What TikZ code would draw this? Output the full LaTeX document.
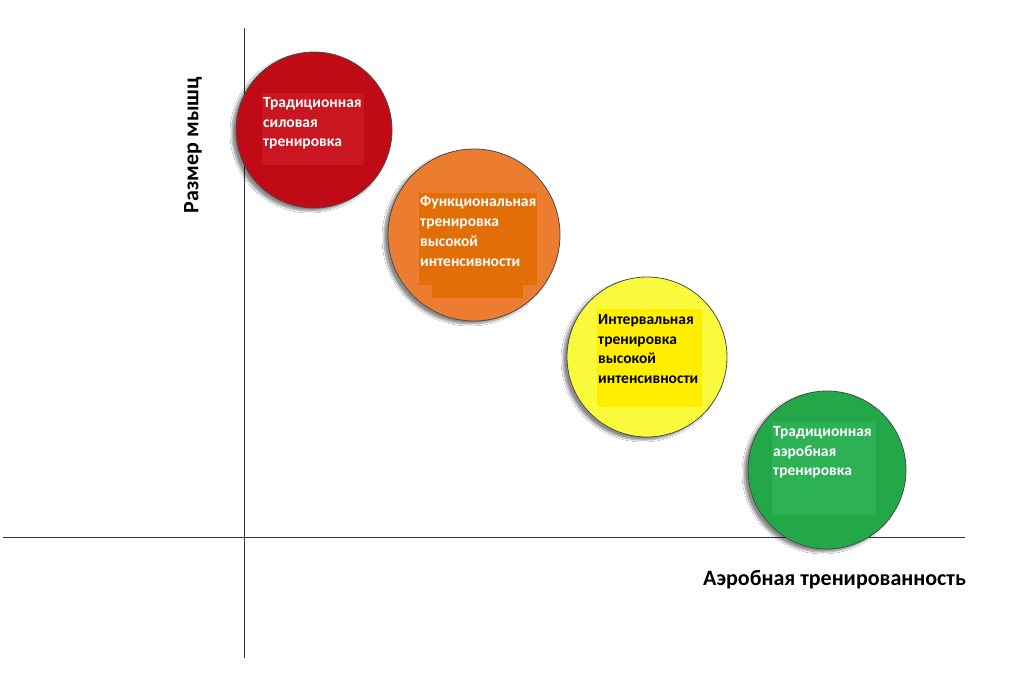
\documentclass[tikz,border=0pt]{standalone}
\usepackage{fontspec}
\setmainfont{Carlito}
\usetikzlibrary{shadows.blur}
\definecolor{redO}{RGB}{192,10,22}
\definecolor{redI}{RGB}{202,22,32}
\definecolor{orO}{RGB}{236,125,48}
\definecolor{orI}{RGB}{226,110,8}
\definecolor{yeO}{RGB}{250,250,60}
\definecolor{yeI}{RGB}{255,238,0}
\definecolor{grO}{RGB}{34,168,72}
\definecolor{grI}{RGB}{44,178,84}
\tikzset{
  ball/.style={circle, draw=gray!60!black, line width=0.8pt, inner sep=0pt,
    blur shadow={shadow xshift=-4pt, shadow yshift=-3pt, shadow blur steps=8, shadow opacity=45}},
  label/.style={anchor=north west, inner sep=0pt, align=left, font=\bfseries\fontsize{15.5}{19.8}\selectfont},
  axis/.style={line width=0.8pt, draw=black!80},
  axlabel/.style={font=\bfseries\fontsize{22}{26}\selectfont, inner sep=0pt}
}
\begin{document}
\begin{tikzpicture}[x=1pt,y=-1pt]
\useasboundingbox[fill=white] (0,0) rectangle (1024,691);
% axes
\coordinate (vt) at (244,28);
\coordinate (vb) at (244,658);
\coordinate (hl) at (3,537);
\coordinate (hr) at (965,537);
\draw[axis] (vt) -- (vb);
\draw[axis] (hl) -- (hr);
% circles
\node[ball, fill=redO, minimum size=156pt] (c1) at (314,130) {};
\node[ball, fill=orO, minimum size=172pt] (c2) at (474,235) {};
\node[ball, fill=yeO, minimum size=160pt] (c3) at (647,357) {};
\node[ball, fill=grO, minimum size=158pt] (c4) at (827,470) {};
% inner panels
\fill[redI] (262,93) rectangle (364,165);
\fill[orI] (419,193) rectangle (537,285);
\fill[orI] (432,285) rectangle (523,298);
\fill[yeI] (597,309) rectangle (702,407);
\fill[grI] (772,422) rectangle (876,515);
% texts
\node[label, text=white] (t1) at (263,97) {Традиционная\\силовая\\тренировка};
\node[label, text=white] (t2) at (420,196) {Функциональная\\тренировка\\высокой\\интенсивности};
\node[label, text=black] (t3) at (598,314) {Интервальная\\тренировка\\высокой\\интенсивности};
\node[label, text=white] (t4) at (773,426) {Традиционная\\аэробная\\тренировка};
% axis labels
\node[axlabel, anchor=west] (xl) at (703,580) {Аэробная тренированность};
\node[axlabel, rotate=90] (yl) at (193,145) {Размер мышц};
\end{tikzpicture}
\end{document}
